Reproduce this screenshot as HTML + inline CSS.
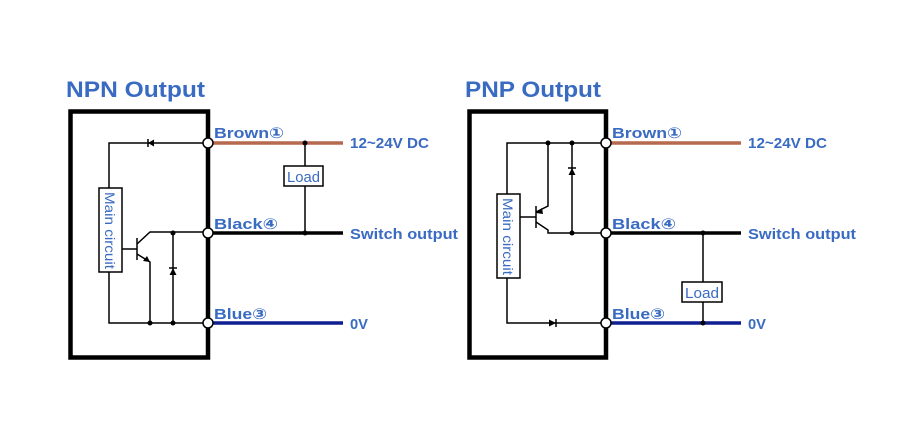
<!DOCTYPE html>
<html><head><style>
body{margin:0;background:#fff;}
svg{display:block;}
text{font-family:"Liberation Sans","DejaVu Sans",sans-serif;fill:#3a6bc2;}
.t{font-size:22px;font-weight:bold;}
.w{font-size:15px;font-weight:bold;}
.s{font-size:15px;}
</style></head><body>
<svg width="922" height="445" viewBox="0 0 922 445" xmlns="http://www.w3.org/2000/svg">
<defs>
<g id="dot"><circle r="2.5" fill="#000"/></g>
</defs>
<!-- NPN -->
<text x="66" y="97" class="t" textLength="139" lengthAdjust="spacingAndGlyphs">NPN Output</text>
<rect x="70.5" y="111.5" width="137.5" height="246" fill="none" stroke="#000" stroke-width="4.5"/>
<line x1="213" y1="143" x2="343" y2="143" stroke="#b5694f" stroke-width="3.5"/>
<line x1="213" y1="233" x2="343" y2="233" stroke="#000" stroke-width="3.5"/>
<line x1="213" y1="323" x2="343" y2="323" stroke="#0f1f8f" stroke-width="3.5"/>
<text x="350" y="148" class="w" textLength="79" lengthAdjust="spacingAndGlyphs">12~24V DC</text>
<text x="350" y="239" class="w" textLength="108" lengthAdjust="spacingAndGlyphs">Switch output</text>
<text x="350" y="329" class="w" textLength="18" lengthAdjust="spacingAndGlyphs">0V</text>
<text x="214" y="138" class="w" textLength="70" lengthAdjust="spacingAndGlyphs">Brown①</text>
<text x="214" y="229" class="w" textLength="64" lengthAdjust="spacingAndGlyphs">Black④</text>
<text x="214" y="319" class="w" textLength="53" lengthAdjust="spacingAndGlyphs">Blue③</text>
<g stroke="#000" stroke-width="1.5" fill="none">
<line x1="305" y1="143" x2="305" y2="233"/>
<polyline points="208,143 109,143 109,188"/>
<polyline points="109,272 109,323 208,323"/>
<polyline points="122,249 137,249"/>
<line x1="137" y1="238" x2="137" y2="260"/>
<polyline points="137,244 150,232 208,232"/>
<polyline points="137,254 150,262 150,323"/>
<line x1="173" y1="233" x2="173" y2="323"/>
</g>
<polygon points="148,143 154,139.5 154,146.5" fill="#000"/><line x1="148" y1="139" x2="148" y2="147" stroke="#000" stroke-width="1.5"/>
<polygon points="173,268 169.5,275 176.5,275" fill="#000"/><line x1="169" y1="268" x2="177" y2="268" stroke="#000" stroke-width="1.5"/>
<polygon points="150,262 143,261 147,256" fill="#000"/>
<use href="#dot" x="305" y="143"/><use href="#dot" x="305" y="233"/>
<use href="#dot" x="150" y="323"/><use href="#dot" x="173" y="323"/><use href="#dot" x="173" y="233"/>
<rect x="284" y="166" width="39" height="20" fill="#fff" stroke="#000" stroke-width="1.5"/>
<text x="287" y="182" class="s" textLength="33" lengthAdjust="spacingAndGlyphs">Load</text>
<rect x="99" y="188" width="23" height="84" fill="#fff" stroke="#000" stroke-width="1.5"/>
<text transform="translate(105,192) rotate(90)" class="s" style="font-size:14px" textLength="77" lengthAdjust="spacingAndGlyphs">Main circuit</text>
<g fill="#fff" stroke="#000" stroke-width="1.5">
<circle cx="208" cy="143" r="5"/><circle cx="208" cy="233" r="5"/><circle cx="208" cy="323" r="5"/>
</g>

<!-- PNP -->
<text x="465" y="97" class="t" textLength="136" lengthAdjust="spacingAndGlyphs">PNP Output</text>
<rect x="469.5" y="111.5" width="136.5" height="246" fill="none" stroke="#000" stroke-width="4.5"/>
<line x1="611" y1="143" x2="741" y2="143" stroke="#b5694f" stroke-width="3.5"/>
<line x1="611" y1="233" x2="741" y2="233" stroke="#000" stroke-width="3.5"/>
<line x1="611" y1="323" x2="741" y2="323" stroke="#0f1f8f" stroke-width="3.5"/>
<text x="748" y="148" class="w" textLength="79" lengthAdjust="spacingAndGlyphs">12~24V DC</text>
<text x="748" y="239" class="w" textLength="108" lengthAdjust="spacingAndGlyphs">Switch output</text>
<text x="748" y="329" class="w" textLength="18" lengthAdjust="spacingAndGlyphs">0V</text>
<text x="612" y="138" class="w" textLength="70" lengthAdjust="spacingAndGlyphs">Brown①</text>
<text x="612" y="229" class="w" textLength="64" lengthAdjust="spacingAndGlyphs">Black④</text>
<text x="612" y="319" class="w" textLength="53" lengthAdjust="spacingAndGlyphs">Blue③</text>
<g stroke="#000" stroke-width="1.5" fill="none">
<line x1="703" y1="233" x2="703" y2="323"/>
<polyline points="507,194 507,143 606,143"/>
<polyline points="507,278 507,323 606,323"/>
<line x1="520" y1="217" x2="536" y2="217"/>
<line x1="536" y1="206" x2="536" y2="228"/>
<polyline points="536,212 548,206 548,143"/>
<polyline points="536,222 548,230 548,233 606,233"/>
<line x1="572" y1="143" x2="572" y2="233"/>
</g>
<polygon points="572,168 568.5,175 575.5,175" fill="#000"/><line x1="568" y1="168" x2="576" y2="168" stroke="#000" stroke-width="1.5"/>
<polygon points="556,323 549,319.5 549,326.5" fill="#000"/><line x1="556" y1="319" x2="556" y2="327" stroke="#000" stroke-width="1.5"/>
<polygon points="536,213 542,208 543,214" fill="#000"/>
<use href="#dot" x="548" y="143"/><use href="#dot" x="572" y="143"/><use href="#dot" x="572" y="233"/>
<use href="#dot" x="703" y="233"/><use href="#dot" x="703" y="323"/>
<rect x="682" y="282" width="40" height="20" fill="#fff" stroke="#000" stroke-width="1.5"/>
<text x="685" y="298" class="s" textLength="34" lengthAdjust="spacingAndGlyphs">Load</text>
<rect x="497" y="194" width="23" height="84" fill="#fff" stroke="#000" stroke-width="1.5"/>
<text transform="translate(503,198) rotate(90)" class="s" style="font-size:14px" textLength="77" lengthAdjust="spacingAndGlyphs">Main circuit</text>
<g fill="#fff" stroke="#000" stroke-width="1.5">
<circle cx="606" cy="143" r="5"/><circle cx="606" cy="233" r="5"/><circle cx="606" cy="323" r="5"/>
</g>
</svg>
</body></html>
